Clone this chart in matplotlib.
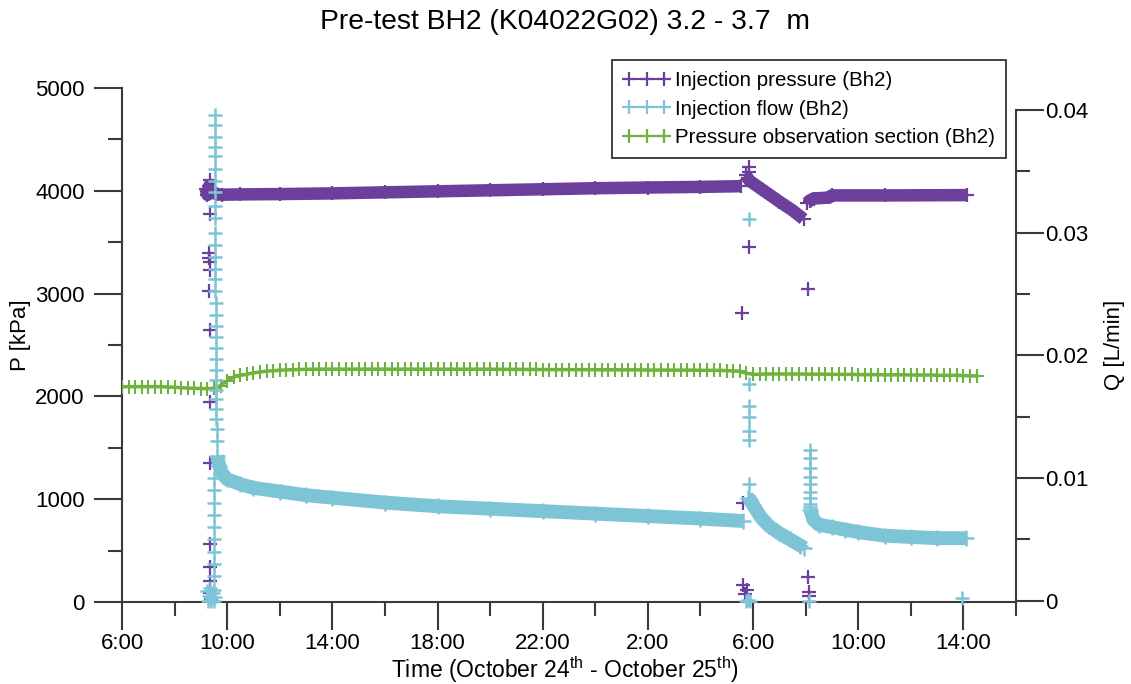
import numpy as np
import matplotlib
matplotlib.use("Agg")
import matplotlib.pyplot as plt
from matplotlib.ticker import MultipleLocator, FuncFormatter
from matplotlib.lines import Line2D

plt.rcParams['font.family'] = ['Liberation Sans', 'DejaVu Sans']
plt.rcParams['mathtext.fontset'] = 'custom'
plt.rcParams['mathtext.rm'] = 'Liberation Sans'
plt.rcParams['mathtext.it'] = 'Liberation Sans:italic'

# ---------------- data (time in hours from Oct 24 00:00) ----------------
# Injection pressure (kPa) - dense band segments
inj_p_time_a = [9.18, 9.25, 9.32, 9.40, 9.60, 9.80, 10.5, 12.0, 14.0, 16.0, 18.0, 20.0, 22.0, 24.0, 26.0, 28.0, 29.55]
inj_p_a = [4020, 3960, 4050, 3985, 3968, 3962, 3965, 3968, 3975, 3985, 3995, 4005, 4015, 4025, 4032, 4038, 4045]
inj_p_time_b = [29.72, 29.80, 29.88, 30.5, 31.0, 31.5, 31.92]
inj_p_b = [4150, 4120, 4095, 3985, 3895, 3810, 3725]
inj_p_time_c = [32.05, 32.15, 32.3, 32.9, 33.0, 35.0, 38.12]
inj_p_c = [3880, 3905, 3925, 3935, 3955, 3955, 3958]
# Injection pressure outliers
inj_p_out_time = [9.35, 9.33, 9.30, 9.31, 9.33, 9.33, 9.32, 9.33, 9.33, 9.34, 9.34, 9.34, 9.33, 9.36, 9.38,
                  29.58, 29.85, 29.60, 29.62, 29.78, 29.70, 29.85, 29.84,
                  32.10, 32.10, 32.12, 32.12]
inj_p_out = [4105, 3775, 3395, 3350, 3310, 3230, 3025, 2650, 1950, 1350, 560, 340, 200, 90, 30,
             2811, 3453, 963, 165, 117, 80, 4230, 4180,
             3045, 243, 97, 60]

# Injection flow (L/min) - dense band segments
inj_q_time_a = [9.62, 9.70, 9.80, 10.0, 10.5, 11.0, 12.0, 13.0, 14.0, 16.0, 18.0, 20.0, 22.0, 24.0, 26.0, 28.0, 29.6]
inj_q_a = [0.0118, 0.0110, 0.0104, 0.0099, 0.0095, 0.0092, 0.0089, 0.0086, 0.0084, 0.0080, 0.0077, 0.0075, 0.0073, 0.0071, 0.0069, 0.0067, 0.0065]
inj_q_time_b = [29.80, 29.90, 30.0, 30.3, 30.6, 31.0, 31.4, 31.8, 31.95]
inj_q_b = [0.0084, 0.0082, 0.0078, 0.0068, 0.0061, 0.0055, 0.0050, 0.0045, 0.0043]
inj_q_time_c = [32.18, 32.3, 32.5, 33.0, 33.5, 34.0, 35.0, 36.0, 37.0, 38.1]
inj_q_c = [0.0074, 0.0066, 0.0062, 0.0060, 0.0058, 0.0056, 0.0053, 0.0052, 0.0051, 0.0051]
# Injection flow spikes / isolated points
inj_q_out_time = [9.52, 9.52, 9.52, 9.53, 9.53, 9.53, 9.53, 9.54, 9.54, 9.54, 9.54, 9.55, 9.55, 9.55, 9.55,
                  9.55, 9.56, 9.56, 9.56, 9.56, 9.57, 9.57, 9.57, 9.58, 9.58, 9.58, 9.59, 9.59, 9.60, 9.60,
                  9.51, 9.51, 9.51, 9.51, 9.51, 9.51, 9.51, 9.51, 9.51,
                  9.25, 9.30, 9.35, 9.40, 9.45, 9.50, 9.55, 9.28, 9.38, 9.48,
                  29.85, 29.85, 29.85, 29.85, 29.85, 29.86, 29.86,
                  32.15, 32.15, 32.15, 32.15, 32.15, 32.15, 32.15, 32.15, 32.15,
                  29.72, 29.80, 29.88, 32.12, 37.95]
inj_q_out = [0.0396, 0.0388, 0.0378, 0.0370, 0.0362, 0.0352, 0.0342, 0.0333, 0.0322, 0.0312, 0.0300, 0.0290,
             0.0280, 0.0270, 0.0262, 0.0252, 0.0243, 0.0233, 0.0224, 0.0215, 0.0206, 0.0197, 0.0188, 0.0180,
             0.0172, 0.0164, 0.0156, 0.0148, 0.0140, 0.0130,
             0.0100, 0.0090, 0.0080, 0.0070, 0.0060, 0.0050, 0.0040, 0.0030, 0.0020,
             0.0008, 0.0004, 0.0010, 0.0002, 0.0006, 0.0009, 0.0003, 0.0000, 0.0000, 0.0000,
             0.0311, 0.0177, 0.0159, 0.0150, 0.0138, 0.0131, 0.0095,
             0.0123, 0.0116, 0.0108, 0.0101, 0.0095, 0.0089, 0.0084, 0.0079, 0.0076,
             0.0000, 0.0001, 0.0000, 0.0000, 0.0002]

# Pressure observation section (kPa), one reading every 15 min from 6:00
obs_time = np.arange(6.0, 38.5 + 0.001, 0.25)
obs_p = [2095, 2095, 2095, 2095,  2095, 2095, 2095, 2092,  2090, 2085, 2080, 2078,
         2076, 2075, 2078, 2105,  2150, 2190, 2205, 2215,  2228, 2238, 2245, 2250,
         2255, 2258, 2260, 2262,  2263, 2264, 2265, 2265,  2265, 2265, 2266, 2266,
         2266, 2266, 2266, 2266,  2266, 2266, 2266, 2266,  2266, 2265, 2265, 2265,
         2265, 2265, 2265, 2265,  2264, 2264, 2264, 2264,  2264, 2263, 2263, 2263,
         2262, 2262, 2262, 2262,  2261, 2261, 2261, 2261,  2260, 2260, 2260, 2260,
         2259, 2259, 2259, 2259,  2258, 2258, 2258, 2258,  2256, 2256, 2256, 2256,
         2255, 2255, 2255, 2255,  2253, 2253, 2253, 2253,  2250, 2248, 2245, 2225,
         2215, 2215, 2218, 2218,  2218, 2218, 2218, 2218,  2216, 2216, 2216, 2216,
         2214, 2214, 2214, 2214,  2212, 2212, 2212, 2212,  2210, 2210, 2210, 2210,
         2208, 2208, 2208, 2208,  2205, 2205, 2205, 2205,  2202, 2200, 2200]

x_major_ticks = [6, 10, 14, 18, 22, 26, 30, 34, 38]
title = "Pre-test BH2 (K04022G02) 3.2 - 3.7  m"
labels = ["Injection pressure (Bh2)", "Injection flow (Bh2)", "Pressure observation section (Bh2)"]

# ---------------- style ----------------
PURPLE = '#6B3F9B'
CYAN = '#7DC4D6'
GREEN = '#70B23E'
SPINE = '#3a3a3a'
FS = 16

fig = plt.figure(figsize=(11.31, 6.84), dpi=100)
ax = fig.add_axes([122 / 1131, 1 - 602 / 684, 894 / 1131, 514 / 684])
ax2 = ax.twinx()

# purple series
for t, v in [(inj_p_time_a, inj_p_a), (inj_p_time_b, inj_p_b), (inj_p_time_c, inj_p_c)]:
    ax.plot(t, v, color=PURPLE, lw=9, solid_capstyle='butt', solid_joinstyle='round',
            marker='+', ms=10, mew=1.6, zorder=3)
ax.plot(inj_p_out_time, inj_p_out, ls='none', color=PURPLE, marker='+', ms=10, mew=1.6,
        zorder=3, clip_on=False)
# green series
ax.plot(obs_time, obs_p, color=GREEN, lw=2.5, marker='+', ms=10, mew=1.5, zorder=4)

# cyan series on right axis
for t, v in [(inj_q_time_a, inj_q_a), (inj_q_time_b, inj_q_b), (inj_q_time_c, inj_q_c)]:
    ax2.plot(t, v, color=CYAN, lw=10, solid_capstyle='butt', solid_joinstyle='round',
             marker='+', ms=11, mew=1.8, zorder=3)
ax2.plot(inj_q_out_time, inj_q_out, ls='none', color=CYAN, marker='+', ms=10, mew=1.8,
         zorder=3, clip_on=False)

ax.set_xlim(6, 40)
ax.set_ylim(0, 5000)
ax2.set_ylim(-0.0001, 0.04178)

ax.xaxis.set_major_locator(plt.FixedLocator(x_major_ticks))
ax.xaxis.set_minor_locator(MultipleLocator(2))
ax.xaxis.set_major_formatter(FuncFormatter(lambda v, p: f"{int(round(v)) % 24}:00"))
ax.yaxis.set_major_locator(MultipleLocator(1000))
ax.yaxis.set_minor_locator(MultipleLocator(500))
ax2.yaxis.set_major_locator(MultipleLocator(0.01))
ax2.yaxis.set_minor_locator(MultipleLocator(0.005))
ax2.yaxis.set_major_formatter(FuncFormatter(lambda v, p: '0' if abs(v) < 1e-9 else f"{v:.2f}"))

for a in (ax, ax2):
    a.spines['top'].set_visible(False)
    for s in a.spines.values():
        s.set_color(SPINE)
        s.set_linewidth(1.5)
ax.spines['right'].set_visible(False)
ax2.spines['left'].set_visible(False)
ax2.spines['bottom'].set_visible(False)
ax2.spines['right'].set_bounds(0, 0.04)

ax.tick_params(axis='both', which='major', direction='out', length=20, width=1.5, color=SPINE,
               labelsize=FS, pad=7)
ax.tick_params(axis='both', which='minor', direction='out', length=10, width=1.5, color=SPINE)
ax.tick_params(axis='x', which='major', pad=2)
ax2.tick_params(axis='y', which='major', direction='out', length=20, width=1.5, color=SPINE,
                labelsize=FS, pad=1)
ax2.tick_params(axis='y', which='minor', direction='out', length=10, width=1.5, color=SPINE)

ax.set_ylabel("P [kPa]", fontsize=FS)
ax.yaxis.set_label_coords(-0.102, 0.52)
ax2.set_ylabel("Q [L/min]", fontsize=FS)
ax2.yaxis.set_label_coords(1.098, 0.5)
ax.set_xlabel(r"Time (October 24$^{\mathrm{th}}$ - October 25$^{\mathrm{th}}$)", fontsize=16.5)
ax.xaxis.set_label_coords(0.4955, -0.101)

fig.text(565 / 1131, 1 - 22 / 684, title, ha='center', va='center', fontsize=20.3)

handles = [Line2D([], [], color=c, lw=1.5, marker='+', ms=10, mew=1.6) for c in (PURPLE, CYAN, GREEN)]
leg = fig.legend(handles, labels, loc='upper left', bbox_to_anchor=(612 / 1131, 1 - 60 / 684),
                 borderaxespad=0, numpoints=3, fontsize=14.8, frameon=True, fancybox=False,
                 edgecolor='#222222', framealpha=1, handlelength=2.3, handletextpad=0.2,
                 labelspacing=0.45, borderpad=0.55)
leg.get_frame().set_linewidth(1.2)

fig.savefig("out.png", dpi=100)
